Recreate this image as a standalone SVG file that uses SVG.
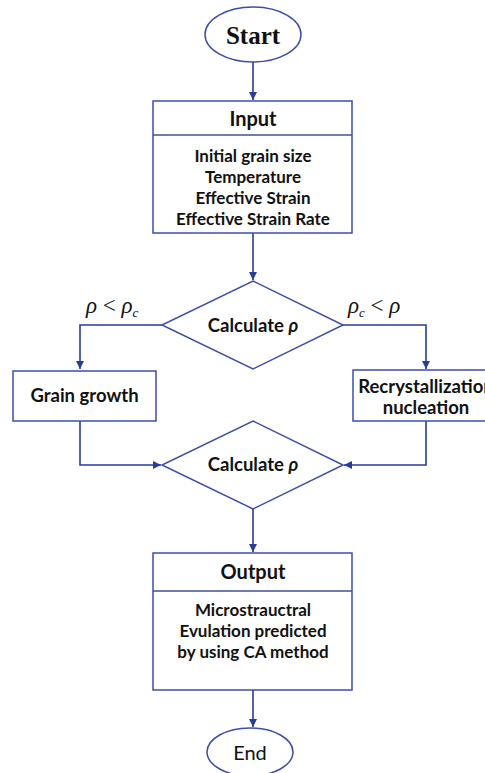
<svg xmlns="http://www.w3.org/2000/svg" width="485" height="773" viewBox="0 0 485 773">
<style>
.shape{fill:#fff;stroke:#3d4ea6;stroke-width:1.5}
.conn{fill:none;stroke:#2b3c96;stroke-width:1.6}
.t{font-family:Lato,"Noto Sans",sans-serif;fill:#111;text-anchor:middle}
.title{font-size:20px;font-weight:bold}
.body{font-size:17px;font-weight:bold}
.mid{font-size:18.5px;font-weight:bold}
.math{font-family:"Liberation Serif",serif;font-size:23px;fill:#111}
</style>
<defs>
<marker id="ah" markerWidth="10" markerHeight="10" refX="8" refY="4" orient="auto" markerUnits="userSpaceOnUse">
<path d="M0,0 L8,4 L0,8 Z" fill="#2b3c96"/>
</marker>
</defs>
<rect width="485" height="773" fill="#fff"/>
<g id="connectors">
<line class="conn" x1="253" y1="62" x2="253" y2="100" marker-end="url(#ah)"/>
<line class="conn" x1="253" y1="233" x2="253" y2="280" marker-end="url(#ah)"/>
<polyline class="conn" points="162,325 80,325 80,369" marker-end="url(#ah)"/>
<polyline class="conn" points="343,325 426,325 426,369" marker-end="url(#ah)"/>
<polyline class="conn" points="80,421 80,465 161,465" marker-end="url(#ah)"/>
<polyline class="conn" points="426,421 426,465 344,465" marker-end="url(#ah)"/>
<line class="conn" x1="253" y1="509" x2="253" y2="552" marker-end="url(#ah)"/>
<line class="conn" x1="253" y1="690" x2="253" y2="727" marker-end="url(#ah)"/>
</g>
<g id="start">
<ellipse class="shape" cx="253" cy="34.5" rx="48" ry="27.5"/>
<text x="253" y="43.5" font-family="'Liberation Serif',serif" font-weight="bold" font-size="25" text-anchor="middle" fill="#111">Start</text>
</g>
<g id="input">
<rect class="shape" x="153" y="101" width="199" height="132"/>
<line class="shape" x1="153" y1="135" x2="352" y2="135"/>
<text class="t title" x="253" y="126">Input</text>
<text class="t body" x="253" y="161.5">Initial grain size</text>
<text class="t body" x="253" y="182.8">Temperature</text>
<text class="t body" x="253" y="204">Effective Strain</text>
<text class="t body" x="253" y="225.3">Effective Strain Rate</text>
</g>
<g id="decision1">
<polygon class="shape" points="253,281 343,325 253,369 162,325"/>
<text class="t mid" x="253" y="331.5">Calculate <tspan font-style="italic">ρ</tspan></text>
</g>
<g id="label-left">
<text class="math" x="86" y="313"><tspan font-style="italic">ρ</tspan> &lt; <tspan font-style="italic">ρ</tspan><tspan font-style="italic" font-size="13" dy="4">c</tspan></text>
</g>
<g id="label-right">
<text class="math" x="348" y="313"><tspan font-style="italic">ρ</tspan><tspan font-style="italic" font-size="13" dy="4">c</tspan><tspan dy="-4"> &lt; </tspan><tspan font-style="italic">ρ</tspan></text>
</g>
<g id="grain-growth">
<rect class="shape" x="13" y="371" width="143" height="50"/>
<text class="t mid" x="84.5" y="401.5">Grain growth</text>
</g>
<g id="recrystallization">
<rect class="shape" x="353" y="370" width="150" height="51"/>
<text class="t mid" x="426" y="393">Recrystallization</text>
<text class="t mid" x="426" y="414">nucleation</text>
</g>
<g id="decision2">
<polygon class="shape" points="253,421 343,465 253,509 162,465"/>
<text class="t mid" x="253" y="471">Calculate <tspan font-style="italic">ρ</tspan></text>
</g>
<g id="output">
<rect class="shape" x="153" y="553" width="199" height="137"/>
<line class="shape" x1="153" y1="591" x2="352" y2="591"/>
<text class="t title" x="253" y="579">Output</text>
<text class="t body" x="253" y="616">Microstrauctral</text>
<text class="t body" x="253" y="637">Evulation predicted</text>
<text class="t body" x="253" y="658">by using CA method</text>
</g>
<g id="end">
<ellipse class="shape" cx="250" cy="752" rx="43" ry="24"/>
<text class="t" x="250" y="760" font-size="20">End</text>
</g>
</svg>
